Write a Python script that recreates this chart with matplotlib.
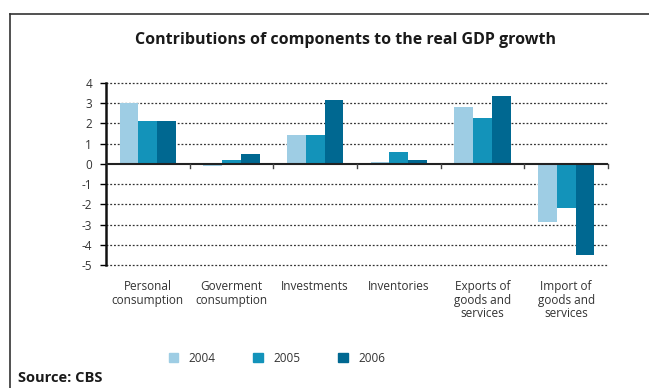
import numpy as np
import matplotlib
matplotlib.use("Agg")
import matplotlib.pyplot as plt
from matplotlib.lines import Line2D
from matplotlib.patches import Rectangle

plt.rcParams['font.family'] = ['Open Sans', 'DejaVu Sans']

categories = ["Personal\nconsumption", "Goverment\nconsumption", "Investments",
              "Inventories", "Exports of\ngoods and\nservices", "Import of\ngoods and\nservices"]
years = ["2004", "2005", "2006"]
values_2004 = [3.0, -0.08, 1.43, 0.07, 2.82, -2.88]
values_2005 = [2.12, 0.2, 1.43, 0.58, 2.27, -2.18]
values_2006 = [2.12, 0.48, 3.17, 0.18, 3.37, -4.52]
colors = ["#9ecde4", "#1393ba", "#006891"]

fig = plt.figure(figsize=(6.49, 3.88), dpi=100)

# outer frame: only top and left edges are visible
fig.add_artist(Line2D([10 / 649, 1.0], [1 - 14 / 388] * 2, color="#333333", lw=1.2,
                      transform=fig.transFigure))
fig.add_artist(Line2D([10 / 649] * 2, [0.0, 1 - 14 / 388], color="#333333", lw=1.2,
                      transform=fig.transFigure))

fig.text(0.532, 1 - 40 / 388, "Contributions of components to the real GDP growth",
         ha="center", va="center", fontsize=11.5, fontweight="bold", color="#1a1a1a")

ax = fig.add_axes([106 / 649, 1 - 265 / 388, 502 / 649, 182 / 388])
x = np.arange(len(categories))
w = 0.225
for i, vals in enumerate([values_2004, values_2005, values_2006]):
    ax.bar(x + (i - 1) * w, vals, width=w, color=colors[i], label=years[i], zorder=3)

ax.set_xlim(-0.5, len(categories) - 0.5)
ax.set_ylim(-5, 4)
ax.set_yticks(range(-5, 5))
ax.set_yticklabels([str(v) for v in range(-5, 5)], fontsize=8.5, color="#333333")
for yv in range(-5, 5):
    if yv != 0:
        ax.axhline(yv, color="#333333", lw=0.9, ls=(0, (1.5, 1.5)), zorder=1, clip_on=False)
ax.axhline(0, color="#222222", lw=1.5, zorder=4)

for s in ["top", "right", "bottom"]:
    ax.spines[s].set_visible(False)
ax.spines["left"].set_linewidth(1.8)
ax.spines["left"].set_color("#111111")
ax.tick_params(axis="y", length=4, width=1, pad=6)
ax.set_xticks([])

# category boundary ticks below the zero line
for b in np.arange(0.5, len(categories), 1.0):
    ax.plot([b, b], [0, -0.22], color="#444444", lw=1, zorder=4, clip_on=False)

for xi, name in zip(x, categories):
    ax.annotate(name, (xi, -5), xytext=(0, -11), textcoords="offset points",
                ha="center", va="top", fontsize=8.5, color="#333333", linespacing=1.05)

handles = [Rectangle((0, 0), 1, 1, color=c) for c in colors]
fig.legend(handles, years, loc="center", bbox_to_anchor=(277 / 649, 1 - 358 / 388),
           ncol=3, frameon=False, fontsize=8.5, handlelength=0.8, handleheight=0.8,
           columnspacing=3.2, handletextpad=0.9, labelcolor="#333333")

fig.text(18 / 649, 1 - 378 / 388, "Source: CBS", ha="left", va="center",
         fontsize=10.5, fontweight="bold", color="#1a1a1a")

fig.savefig("out.png", dpi=100)
